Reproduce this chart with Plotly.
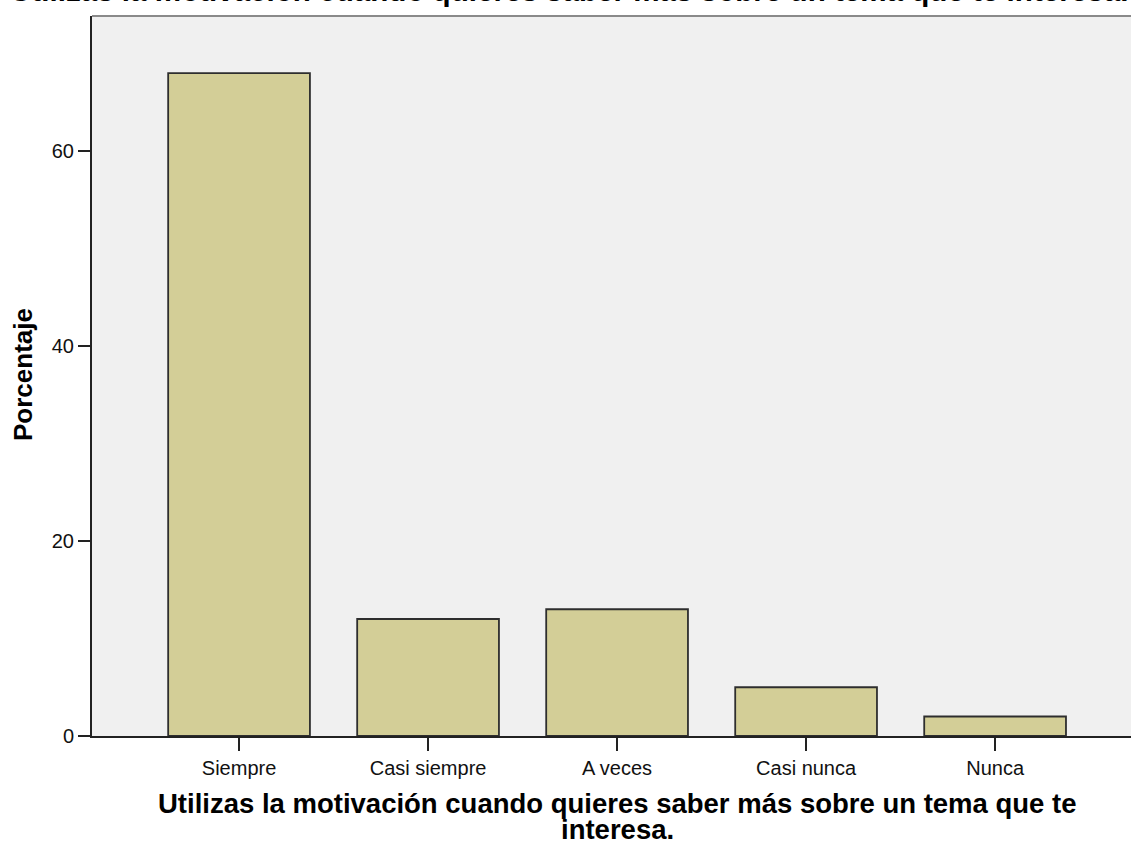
import plotly.graph_objects as go

categories = ["Siempre", "Casi siempre", "A veces", "Casi nunca", "Nunca"]
percentages = [68, 12, 13, 5, 2]
y_ticks = [0, 20, 40, 60]

title_text = "Utilizas la motivación cuando quieres saber más sobre un tema que te interesa."
xtitle_line1 = "Utilizas la motivación cuando quieres saber más sobre un tema que te"
xtitle_line2 = "interesa."
ytitle_text = "Porcentaje"

FONT = "Liberation Sans, Arial, sans-serif"

fig = go.Figure()
fig.add_trace(go.Bar(
    x=list(range(len(categories))),
    y=percentages,
    width=0.75,
    marker=dict(color="#D3CE97", line=dict(color="#2E2E2E", width=1.8)),
    hoverinfo="skip",
))

fig.update_layout(
    width=1131, height=841,
    margin=dict(l=92, r=0, t=16, b=105),
    paper_bgcolor="white",
    plot_bgcolor="#F0F0F0",
    showlegend=False,
    font=dict(family=FONT, color="#111111"),
    xaxis=dict(
        range=[-0.778, 4.719],
        tickmode="array",
        tickvals=list(range(len(categories))),
        ticktext=categories,
        ticks="outside", ticklen=13, tickwidth=1.5, tickcolor="#222222",
        showline=True, linecolor="#222222", linewidth=2,
        showgrid=False, zeroline=False,
        tickfont=dict(family=FONT, size=20, color="#111111"),
    ),
    yaxis=dict(
        range=[0, 73.85],
        tickmode="array",
        tickvals=y_ticks,
        ticks="outside", ticklen=12, tickwidth=1.5, tickcolor="#222222",
        showline=True, linecolor="#222222", linewidth=2,
        showgrid=False, zeroline=False,
        tickfont=dict(family=FONT, size=20, color="#111111"),
    ),
    shapes=[dict(type="line", xref="paper", yref="paper", x0=0, x1=1, y0=1, y1=1,
                 line=dict(color="#8A8A8A", width=2))],
    annotations=[
        dict(text="<b>" + title_text + "</b>", xref="paper", yref="paper",
             x=0.459, y=1.0355, xanchor="center", yanchor="middle", showarrow=False,
             font=dict(family=FONT, size=29.6, color="#000000")),
        dict(text="<b>" + xtitle_line1 + "</b>", xref="paper", yref="paper",
             x=0.5053, y=-0.0931, xanchor="center", yanchor="middle", showarrow=False,
             font=dict(family=FONT, size=27.5, color="#000000")),
        dict(text="<b>" + xtitle_line2 + "</b>", xref="paper", yref="paper",
             x=0.5053, y=-0.130, xanchor="center", yanchor="middle", showarrow=False,
             font=dict(family=FONT, size=27.5, color="#000000")),
        dict(text="<b>" + ytitle_text + "</b>", xref="paper", yref="paper",
             x=-0.0664, y=0.5014, xanchor="center", yanchor="middle", showarrow=False,
             textangle=-90,
             font=dict(family=FONT, size=26, color="#000000")),
    ],
)

fig.write_html(
    "out.html",
    config={"displayModeBar": False},
    post_script="document.body.style.margin='0';document.body.style.overflow='hidden';",
)
